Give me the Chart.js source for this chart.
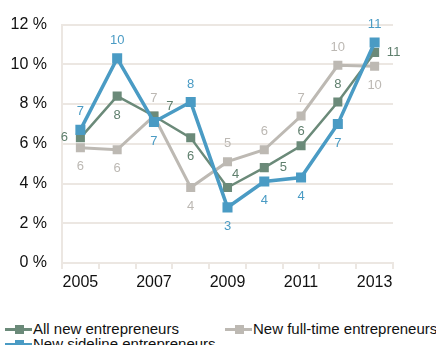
<!DOCTYPE html>
<html>
<head>
<meta charset="utf-8">
<script src="https://cdn.jsdelivr.net/npm/chart.js@4/dist/chart.umd.min.js"></script>
<style>
  body { margin: 0; background: #fff; font-family: Arial, "Liberation Sans", sans-serif; overflow: hidden; }
  #wrap { position: relative; width: 436px; height: 300px; }
  #legend { position: relative; width: 436px; height: 45px; font-size: 15px; color: #111; }
  .item { position: absolute; display: flex; align-items: center; white-space: nowrap; line-height: 17px; }
  .icon { position: relative; width: 27px; height: 10px; margin-right: 1px; }
  .icon .ln { position: absolute; left: 0; right: 0; top: 4px; height: 3px; }
  .icon .sq { position: absolute; left: 10px; top: 1px; width: 9px; height: 9px; }
</style>
</head>
<body>
<div id="wrap"><canvas id="chart" width="436" height="300"></canvas></div>
<div id="legend"></div>
<script>
const years = ['2005', '2006', '2007', '2008', '2009', '2010', '2011', '2012', '2013'];
const allNew = [6.3, 8.4, 7.4, 6.3, 3.8, 4.8, 5.9, 8.1, 10.6];
const fullTime = [5.8, 5.7, 7.4, 3.8, 5.1, 5.7, 7.4, 9.95, 9.9];
const sideline = [6.7, 10.3, 7.1, 8.1, 2.8, 4.1, 4.3, 7.0, 11.1];

const green = '#6b8a79';
const grey = '#bdb9b3';
const blue = '#4a9bc4';
const gridColor = '#ece7e2';

// where each value label sits relative to its point
const allNewPos = ['l', 'b', 'ar', 'b', 'ar2', 'r', 'a2', 'a', 'r'];
const fullTimePos = ['b', 'b', 'a', 'b', 'a', 'a', 'a', 'a', 'b'];
const sidelinePos = ['a', 'a', 'b', 'a', 'b', 'b', 'b', 'b', 'a'];

const valueLabels = {
  id: 'valueLabels',
  afterDatasetsDraw(chart) {
    const ctx = chart.ctx;
    ctx.save();
    ctx.font = '13px Arial, "Liberation Sans", sans-serif';
    ctx.textAlign = 'center';
    ctx.textBaseline = 'middle';
    chart.data.datasets.forEach((ds, i) => {
      const meta = chart.getDatasetMeta(i);
      ctx.fillStyle = ds.labelColor;
      meta.data.forEach((pt, j) => {
        const p = ds.labelPos[j];
        let dx = 0, dy = 0;
        if (p === 'a') dy = -18;
        else if (p === 'a2') dy = -14;
        else if (p === 'b') dy = 19;
        else if (p === 'l') dx = -16;
        else if (p === 'r') dx = 19;
        else if (p === 'ar') { dx = 16; dy = -10; }
        else if (p === 'ar2') { dx = 8; dy = -13; }
        ctx.fillText(String(Math.round(ds.data[j])), pt.x + dx, pt.y + dy);
      });
    });
    ctx.restore();
  }
};

new Chart(document.getElementById('chart'), {
  type: 'line',
  data: {
    labels: years,
    datasets: [
      {
        label: 'All new entrepreneurs',
        data: allNew,
        borderColor: green,
        backgroundColor: green,
        borderWidth: 2.5,
        pointStyle: 'rect',
        pointRadius: 6.4,
        pointBorderWidth: 0,
        labelColor: '#5f7f6d',
        labelPos: allNewPos,
        order: 1
      },
      {
        label: 'New full-time entrepreneurs',
        data: fullTime,
        borderColor: grey,
        backgroundColor: grey,
        borderWidth: 3,
        pointStyle: 'rect',
        pointRadius: 6.4,
        pointBorderWidth: 0,
        labelColor: '#bcb8b3',
        labelPos: fullTimePos,
        order: 2
      },
      {
        label: 'New sideline entrepreneurs',
        data: sideline,
        borderColor: blue,
        backgroundColor: blue,
        borderWidth: 3.5,
        pointStyle: 'rect',
        pointRadius: 7.1,
        pointBorderWidth: 0,
        labelColor: blue,
        labelPos: sidelinePos,
        order: 0
      }
    ]
  },
  options: {
    responsive: false,
    animation: false,
    layout: { padding: { top: 19, right: 43, left: 0, bottom: 0 } },
    plugins: { legend: { display: false }, tooltip: { enabled: false } },
    elements: { line: { tension: 0 } },
    scales: {
      x: {
        offset: true,
        afterFit: s => { s.height = 37; },
        grid: { offset: true, drawOnChartArea: false, drawTicks: true, tickLength: 6, color: gridColor, lineWidth: 2 },
        border: { color: gridColor, width: 2 },
        ticks: {
          autoSkip: false,
          maxRotation: 0,
          padding: 4,
          color: '#111',
          font: { size: 16, family: 'Arial, "Liberation Sans", sans-serif' },
          callback: (v, i) => (i % 2 === 0 ? years[i] : '')
        }
      },
      y: {
        min: 0,
        max: 12,
        afterFit: s => { s.width = 62; },
        grid: { drawTicks: false, color: gridColor, lineWidth: 2 },
        border: { color: gridColor, width: 2 },
        ticks: {
          stepSize: 2,
          padding: 15,
          color: '#111',
          font: { size: 16, family: 'Arial, "Liberation Sans", sans-serif' },
          callback: v => v + ' %'
        }
      }
    }
  },
  plugins: [valueLabels]
});

// legend under the chart
const legendItems = [
  { text: 'All new entrepreneurs', color: green, x: 5, y: 20 },
  { text: 'New full-time entrepreneurs', color: grey, x: 225, y: 20 },
  { text: 'New sideline entrepreneurs', color: blue, x: 5, y: 35 }
];
const legend = document.getElementById('legend');
legendItems.forEach(it => {
  const el = document.createElement('div');
  el.className = 'item';
  el.style.left = it.x + 'px';
  el.style.top = it.y + 'px';
  el.innerHTML = `<span class="icon"><span class="ln" style="background:${it.color}"></span><span class="sq" style="background:${it.color}"></span></span><span>${it.text}</span>`;
  legend.appendChild(el);
});
</script>
</body>
</html>
